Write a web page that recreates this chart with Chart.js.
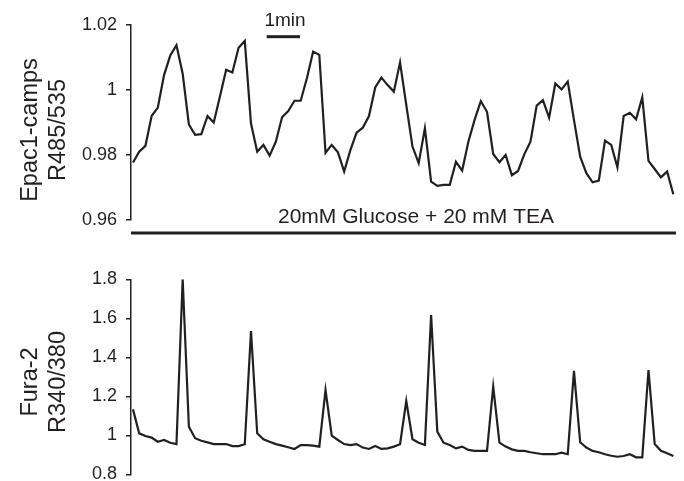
<!DOCTYPE html>
<html><head><meta charset="utf-8">
<script src="https://cdn.jsdelivr.net/npm/chart.js@4"></script>
<style>
html,body{margin:0;padding:0;overflow:hidden;background:#fff;width:684px;height:481px}
#c1{position:absolute;left:0;top:0}
#c2{position:absolute;left:0;top:240px}
</style></head><body>
<canvas id="c1" width="684" height="240"></canvas>
<canvas id="c2" width="684" height="262"></canvas>
<script>
// Epac1-camps ratio R485/535 (top trace)
const epac = [
0.9777,0.9810,0.9828,0.9920,0.9946,1.0046,1.0106,1.0138,1.0050,0.9894,
0.9862,0.9864,0.9920,0.9900,0.9980,1.0062,1.0054,1.0130,1.0151,0.9897,
0.9810,0.9831,0.9798,0.9841,0.9916,0.9935,0.9967,0.9967,1.0036,1.0118,
1.0108,0.9807,0.9831,0.9808,0.9749,0.9815,0.9869,0.9884,0.9920,1.0008,
1.0038,1.0015,0.9995,1.0085,0.9954,0.9826,0.9775,0.9882,0.9718,0.9705,
0.9708,0.9708,0.9779,0.9752,0.9841,0.9908,0.9966,0.9933,0.9803,0.9778,
0.9800,0.9738,0.9751,0.9802,0.9841,0.9952,0.9969,0.9915,1.0020,1.0002,
1.0026,0.9908,0.9795,0.9744,0.9716,0.9721,0.9844,0.9831,0.9762,0.9920,
0.9930,0.9910,0.9977,0.9782,0.9757,0.9731,0.9749,0.9679];
// Fura-2 ratio R340/380 (bottom trace)
const fura = [
1.133,1.010,0.996,0.988,0.967,0.976,0.962,0.955,1.800,1.044,
0.985,0.972,0.964,0.955,0.955,0.955,0.945,0.945,0.954,1.535,
1.010,0.980,0.967,0.955,0.947,0.939,0.930,0.950,0.950,0.947,
0.942,1.232,0.998,0.976,0.955,0.950,0.955,0.937,0.930,0.945,
0.930,0.933,0.942,0.954,1.176,0.980,0.962,0.950,1.617,1.019,
0.962,0.950,0.933,0.942,0.925,0.920,0.920,0.920,1.249,0.962,
0.942,0.928,0.920,0.920,0.913,0.908,0.903,0.903,0.903,0.911,
0.903,1.330,0.964,0.937,0.920,0.913,0.903,0.895,0.890,0.894,
0.903,0.887,0.887,1.335,0.955,0.921,0.908,0.894];
// sample number (categories)
const samples = epac.map((_, i) => i);
// tick labels
const epacTicks = [0.96, 0.98, 1, 1.02];
const furaTicks = [0.8, 1, 1.2, 1.4, 1.6, 1.8];
const epacTitle = ['Epac1-camps', 'R485/535'];
const furaTitle = ['Fura-2', 'R340/380'];
const scaleBarLabel = '1min';
const treatmentLabel = '20mM Glucose + 20 mM TEA';

const INK = '#231f20';
const FONT = 'Liberation Sans, Arial, Helvetica, sans-serif';

const titlePlugin = {
  id: 'titles',
  afterDraw(chart, args, o) {
    const ctx = chart.ctx;
    ctx.save();
    ctx.fillStyle = INK;
    ctx.font = o.size + 'px ' + FONT;
    ctx.textAlign = 'center';
    ctx.textBaseline = 'alphabetic';
    o.lines.forEach((t, i) => {
      ctx.save();
      ctx.translate(o.baselines[i], o.cy);
      ctx.rotate(-Math.PI / 2);
      ctx.fillText(t, 0, 0);
      ctx.restore();
    });
    ctx.restore();
  }
};

const annotPlugin = {
  id: 'annot',
  afterDraw(chart, args, o) {
    if (!o.on) return;
    const ctx = chart.ctx;
    ctx.save();
    ctx.fillStyle = INK;
    ctx.textAlign = 'center';
    ctx.textBaseline = 'alphabetic';
    ctx.font = '19px ' + FONT;
    ctx.fillText(scaleBarLabel, 285, 26);
    ctx.fillRect(266.7, 35.2, 33.3, 3);
    ctx.font = '21px ' + FONT;
    ctx.fillText(treatmentLabel, 416, 222.5);
    ctx.fillRect(131, 231.5, 545, 3);
    ctx.restore();
  }
};

function makeOpts(yMin, yMax, ticksArr, padTop, padBottom, title, cy, annot) {
  return {
    responsive: false,
    animation: false,
    layout: {padding: {left: 0, right: 8, top: padTop, bottom: padBottom}},
    plugins: {
      legend: {display: false},
      tooltip: {enabled: false},
      titles: {lines: title, baselines: [37, 65], cy: cy, size: 23.5},
      annot: {on: annot}
    },
    scales: {
      x: {type: 'linear', display: false, min: -0.32, max: 87.43},
      y: {
        min: yMin, max: yMax,
        afterBuildTicks: s => { s.ticks = ticksArr.map(v => ({value: v})); },
        afterFit: s => { s.width = 131; },
        grid: {drawOnChartArea: false, drawTicks: true, tickLength: 5, color: INK, lineWidth: 1.5},
        border: {display: true, color: INK, width: 1.5},
        ticks: {padding: 9, color: INK, font: {family: FONT, size: 18},
                callback: v => String(v)}
      }
    }
  };
}

function ds(vals) {
  return [{
    data: vals.map((v, i) => ({x: samples[i], y: v})),
    borderColor: INK, borderWidth: 2.2, pointRadius: 0, tension: 0, fill: false
  }];
}

new Chart(document.getElementById('c1'), {
  type: 'line',
  data: {datasets: ds(epac)},
  options: makeOpts(0.96, 1.02, epacTicks, 25, 20, epacTitle, 130, true),
  plugins: [titlePlugin, annotPlugin]
});
new Chart(document.getElementById('c2'), {
  type: 'line',
  data: {datasets: ds(fura)},
  options: makeOpts(0.8, 1.8, furaTicks, 39.3, 27.7, furaTitle, 142, false),
  plugins: [titlePlugin, annotPlugin]
});
</script>
</body></html>
